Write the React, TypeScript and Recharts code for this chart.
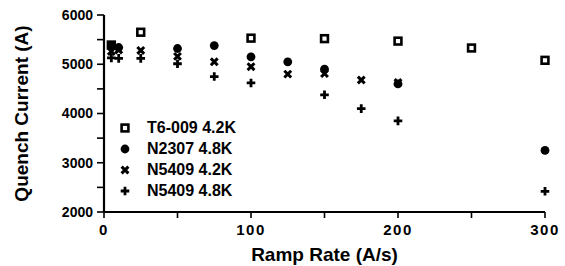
import { Scatter, ScatterChart, XAxis, YAxis } from "recharts";

const font = "'Liberation Sans', Arial, sans-serif";
const ink = "#000";

// T6-009 4.2K
const t6Rate = [5, 25, 100, 150, 200, 250, 300];
const t6Current = [5390, 5650, 5530, 5520, 5470, 5330, 5080];
// N2307 4.8K
const n2307Rate = [5, 10, 50, 75, 100, 125, 150, 200, 300];
const n2307Current = [5360, 5340, 5320, 5380, 5150, 5050, 4900, 4600, 3250];
// N5409 4.2K
const n42Rate = [5, 10, 25, 50, 75, 100, 125, 150, 175, 200];
const n42Current = [5260, 5290, 5280, 5160, 5050, 4950, 4800, 4810, 4680, 4630];
// N5409 4.8K
const n48Rate = [5, 10, 25, 50, 75, 100, 150, 175, 200, 300];
const n48Current = [5130, 5120, 5120, 5010, 4750, 4620, 4380, 4100, 3850, 2420];

const xTicks = [0, 50, 100, 150, 200, 250, 300];
const yTicks = [2000, 2500, 3000, 3500, 4000, 4500, 5000, 5500, 6000];

function toPoints(rates: number[], currents: number[]) {
  return rates.map((rate, i) => ({ rate, current: currents[i] }));
}

type MarkProps = { cx?: number; cy?: number };

function SquareMark({ cx = 0, cy = 0 }: MarkProps) {
  return <rect x={cx - 3.4} y={cy - 3.4} width={6.8} height={6.8} fill="#fff" stroke={ink} strokeWidth={2.6} />;
}

function CircleMark({ cx = 0, cy = 0 }: MarkProps) {
  return <circle cx={cx} cy={cy} r={4.4} fill={ink} />;
}

function CrossMark({ cx = 0, cy = 0 }: MarkProps) {
  const s = 3.4;
  return (
    <path
      d={`M${cx - s},${cy - s}L${cx + s},${cy + s}M${cx + s},${cy - s}L${cx - s},${cy + s}`}
      stroke={ink}
      strokeWidth={3}
    />
  );
}

function PlusMark({ cx = 0, cy = 0 }: MarkProps) {
  const s = 4.3;
  return <path d={`M${cx - s},${cy}L${cx + s},${cy}M${cx},${cy - s}L${cx},${cy + s}`} stroke={ink} strokeWidth={2.8} />;
}

const series = [
  { name: "T6-009 4.2K", data: toPoints(t6Rate, t6Current), Mark: SquareMark },
  { name: "N2307 4.8K", data: toPoints(n2307Rate, n2307Current), Mark: CircleMark },
  { name: "N5409 4.2K", data: toPoints(n42Rate, n42Current), Mark: CrossMark },
  { name: "N5409 4.8K", data: toPoints(n48Rate, n48Current), Mark: PlusMark }
];

function LegendBox() {
  return (
    <div style={{ position: "absolute", left: 115, top: 117, fontFamily: font, fontSize: 16, fontWeight: "bold", color: ink }}>
      {series.map(({ name, Mark }) => (
        <div key={name} style={{ display: "flex", alignItems: "center", height: 21 }}>
          <svg width={20} height={14} style={{ marginRight: 12 }}>
            <Mark cx={10} cy={7} />
          </svg>
          <span>{name}</span>
        </div>
      ))}
    </div>
  );
}

export default function App() {
  return (
    <div style={{ position: "absolute", left: 0, top: 0, width: 565, height: 266, background: "#fff" }}>
      <ScatterChart width={565} height={266} margin={{ top: 15, right: 20, left: 0, bottom: 14 }}>
        <XAxis
          type="number"
          dataKey="rate"
          domain={[0, 300]}
          ticks={xTicks}
          interval={0}
          height={40}
          tickFormatter={(v) => (v % 100 === 0 ? String(v) : "")}
          tick={{ fill: ink, fontSize: 15, fontWeight: "bold", fontFamily: font, letterSpacing: 1.5 }}
          tickSize={6}
          tickMargin={6}
          axisLine={{ stroke: ink, strokeWidth: 2.2 }}
          tickLine={{ stroke: ink, strokeWidth: 1.6 }}
          label={{
            value: "Ramp Rate (A/s)",
            position: "insideBottom",
            offset: -9,
            fill: ink,
            fontSize: 19,
            fontWeight: "bold",
            fontFamily: font
          }}
        />
        <YAxis
          type="number"
          dataKey="current"
          domain={[2000, 6000]}
          ticks={yTicks}
          interval={0}
          width={104}
          tickFormatter={(v) => (v % 1000 === 0 ? String(v) : "")}
          tick={{ fill: ink, fontSize: 14, fontWeight: "bold", fontFamily: font }}
          tickSize={7}
          tickMargin={4}
          axisLine={{ stroke: ink, strokeWidth: 2.2 }}
          tickLine={{ stroke: ink, strokeWidth: 1.6 }}
          label={{
            value: "Quench Current (A)",
            angle: -90,
            position: "insideLeft",
            offset: 21,
            style: { textAnchor: "middle" },
            fill: ink,
            fontSize: 19,
            fontWeight: "bold",
            fontFamily: font
          }}
        />
        {series.map(({ name, data, Mark }) => (
          <Scatter key={name} name={name} data={data} fill={ink} shape={(p: MarkProps) => <Mark cx={p.cx} cy={p.cy} />} isAnimationActive={false} />
        ))}
      </ScatterChart>
      <LegendBox />
    </div>
  );
}
